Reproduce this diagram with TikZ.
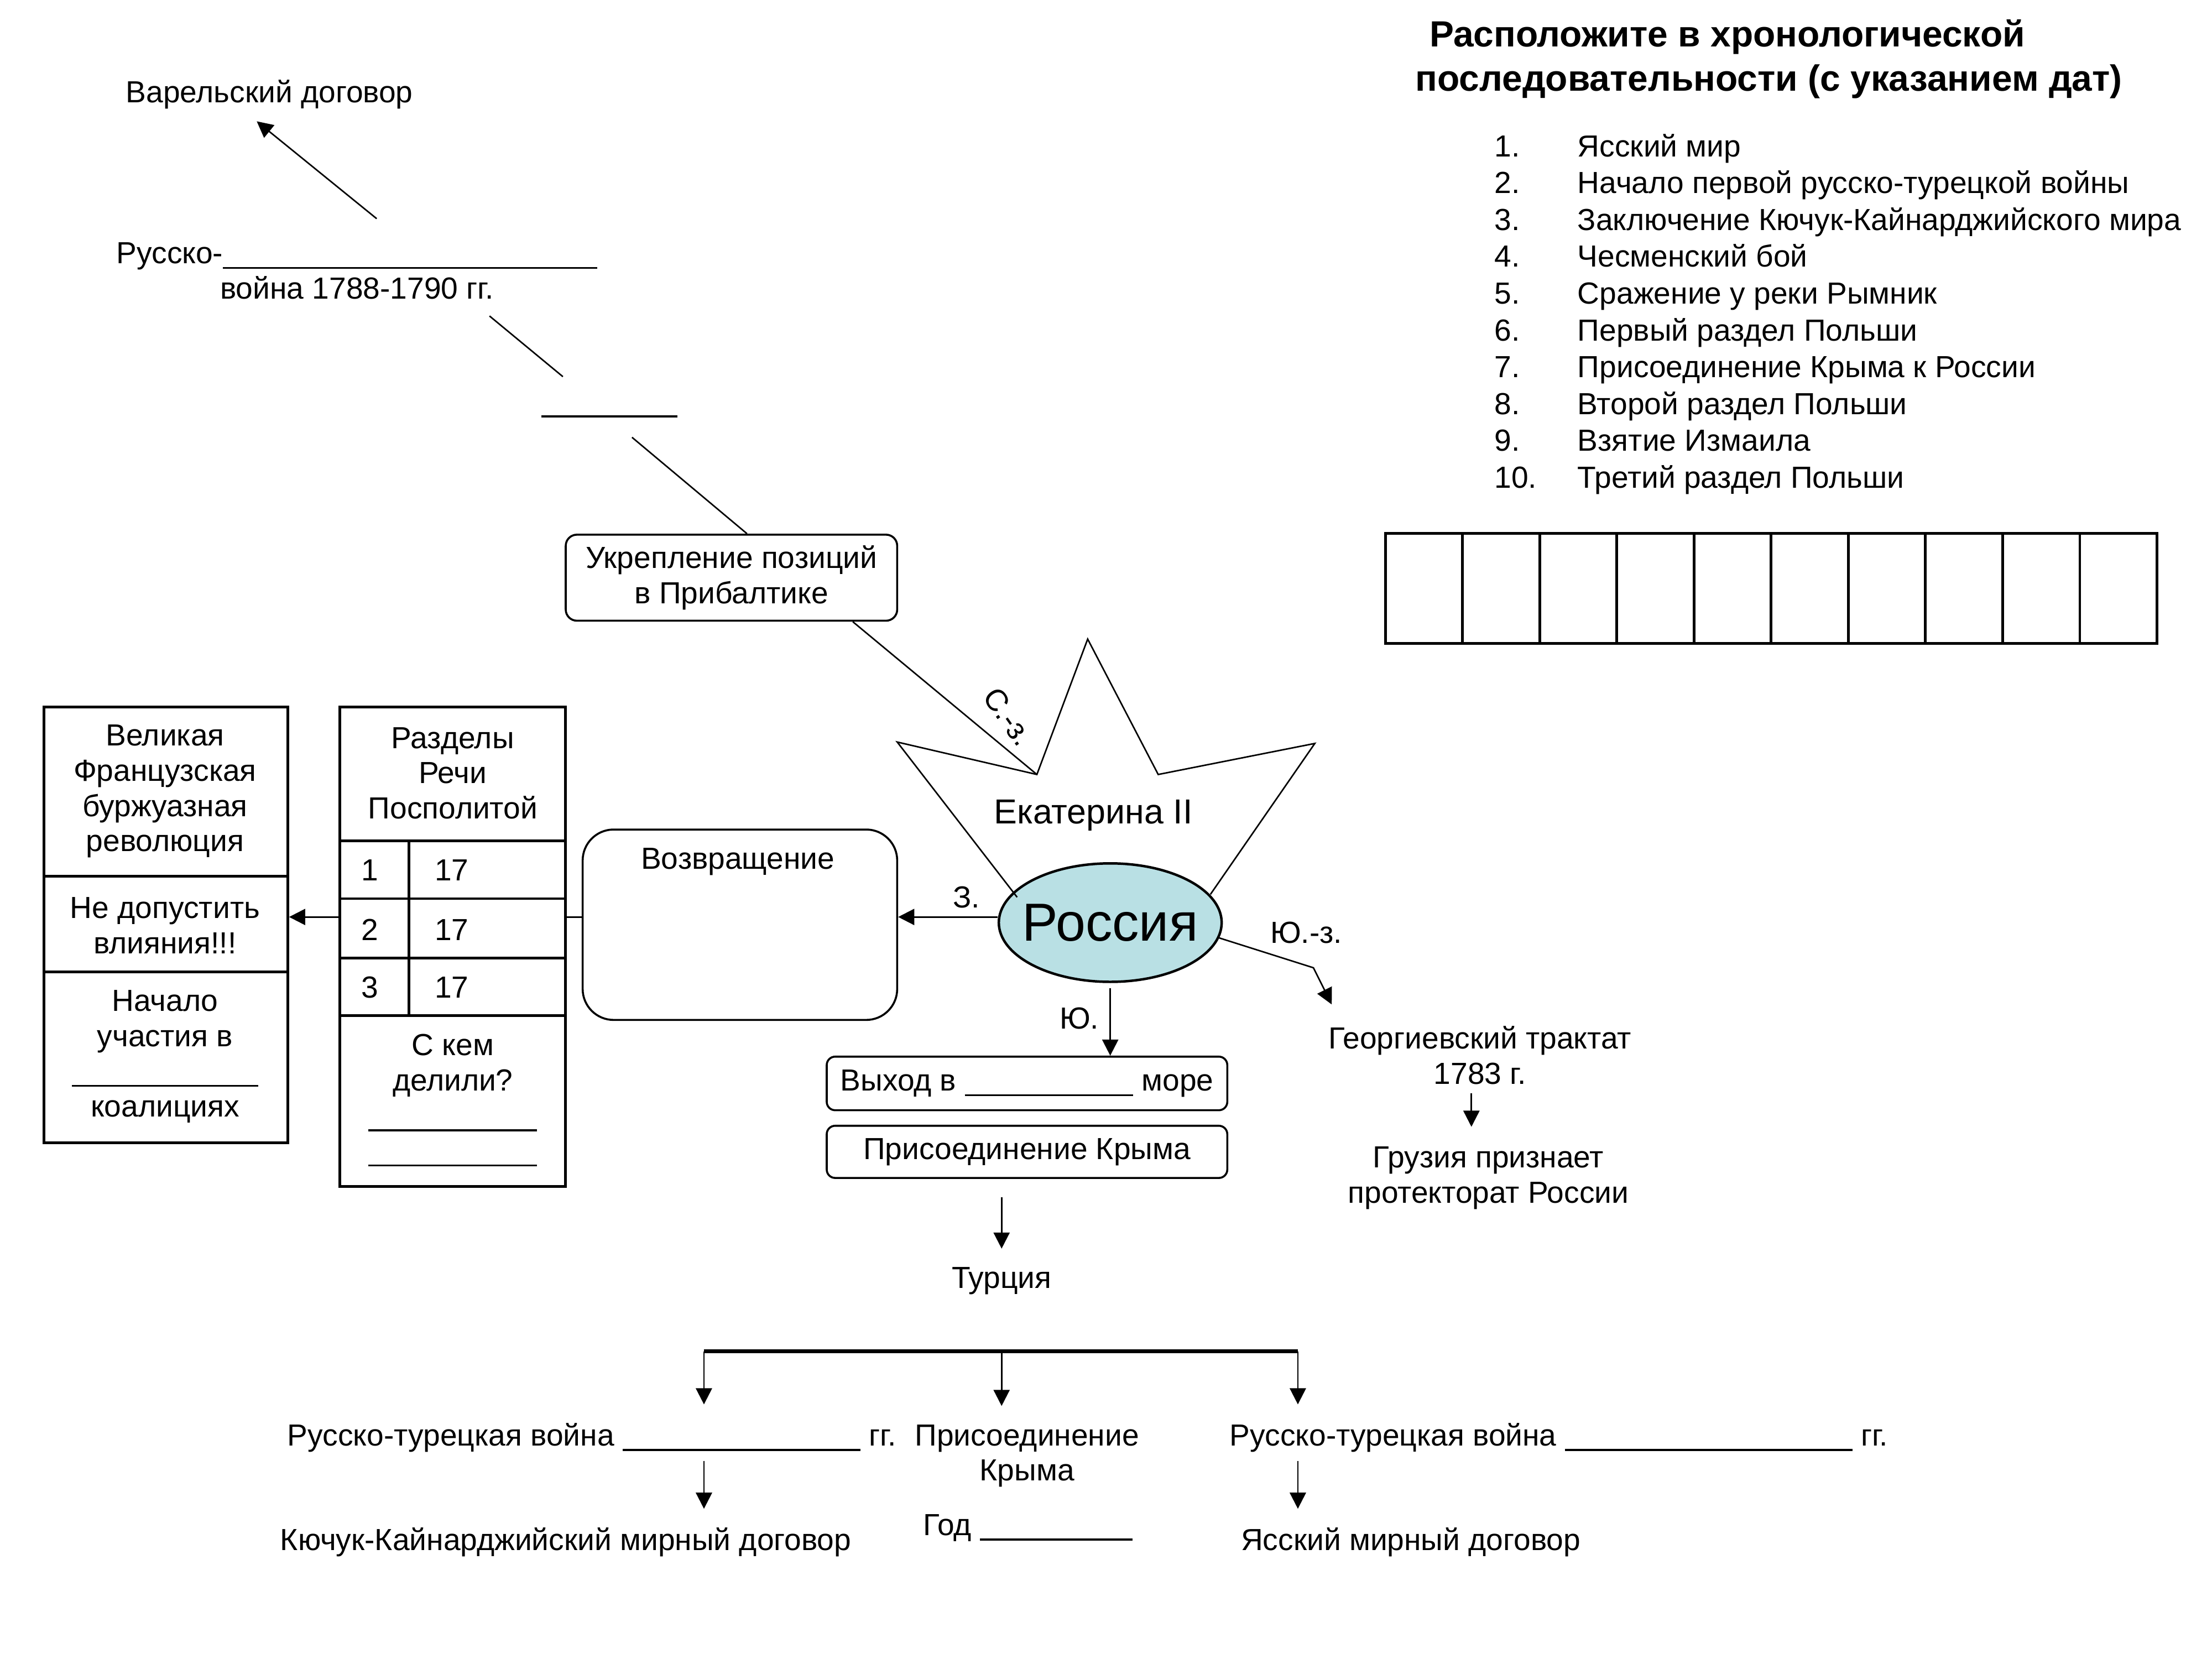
\documentclass[tikz,border=0pt]{standalone}
\usepackage{fontspec}
\setmainfont{Liberation Sans}
\usetikzlibrary{arrows.meta,shapes.geometric,calc}
\tikzset{>={Triangle[length=6.5pt,width=6.5pt]}}
\tikzset{
  ln/.style={line width=0.6pt},
  tbl/.style={draw,line width=1.1pt,inner sep=0pt},
  tblline/.style={line width=1.1pt},
  rbox/.style={draw,line width=0.8pt,inner sep=0pt,align=center},
  bar/.style={line width=1.6pt},
  lst/.style={anchor=base west,inner sep=0pt},
  ttl/.style={anchor=west,inner sep=0pt,font=\fontsize{14.7}{17}\selectfont\bfseries}
}
\definecolor{rusfill}{RGB}{185,224,228}
\newcommand{\fillin}[1]{\rule[-0.17em]{#1}{0.06em}}

\begin{document}
\begin{tikzpicture}[x=0.02cm,y=-0.02cm,font=\fontsize{12.3}{14.2}\selectfont]
    \useasboundingbox (0,0) rectangle (1568,1176);

    % north-west branch
    \node (varel) at (191,67) {Варельский договор};
    \node[align=center] (war88) at (253,192) {Русско-\fillin{151pt}\\война 1788-1790 гг.};
    \node (gapline) at (432,294) {\fillin{55pt}};
    \node[rbox,rounded corners=4.5pt,minimum width=4.7cm,minimum height=1.22cm] (balt) at (518.5,409.5) {Укрепление позиций\\в Прибалтике};
    \coordinate (v1) at (267,155);
    \coordinate (v2) at (182,86);
    \coordinate (w1) at (347,224);
    \coordinate (w2) at (399,267);
    \coordinate (u1) at (448,310);
    \draw[ln,->] (v1) -- (v2);
    \draw[ln] (w1) -- (w2);
    \draw[ln] (u1) -- ($(balt.north)+(11,0)$);

    % Ekaterina and Russia
    \coordinate (starA) at (735,549);
    \node[ellipse,draw,line width=1pt,fill=rusfill,minimum width=3.16cm,minimum height=1.68cm,inner sep=0pt,font=\fontsize{21.6}{24}\selectfont] (russia) at (787,654) {\makebox[30pt]{Россия}};
    \draw[ln] (721,636) -- (636,526) -- (starA) -- (771,453) -- (821,549) -- (932,527) -- (858,634);
    \node[font=\fontsize{14}{16}\selectfont] (ekat) at (775,578) {Екатерина II};
    \draw[ln] ($(balt.south)+(86,0)$) -- (starA);
    \node[rotate=-55] (nwlab) at (715,508) {С.-з.};

    % west
    \coordinate (wrow) at (0,650);
    \node[rbox,rounded corners=12.5pt,minimum width=4.46cm,minimum height=2.7cm] (ret) at (524.5,655.5) {};
    \node (rettxt) at (523,611) {Возвращение};
    \draw[ln,->] (russia.west |- wrow) -- (ret.east |- wrow);
    \node (wlab) at (685,636) {З.};

    \node[tbl,minimum width=3.2cm,minimum height=6.8cm] (parts) at (321,671) {};
    \draw[tblline] (241,596) -- (401,596);
    \draw[tblline] (241,637) -- (401,637);
    \draw[tblline] (241,679) -- (401,679);
    \draw[tblline] (241,720) -- (401,720);
    \draw[tblline] (290,596) -- (290,720);
    \node[align=center] (partshead) at (321,548) {Разделы\\Речи\\Посполитой};
    \foreach \r/\y in {1/617,2/659,3/700} {
        \node (pn\r) at (262,\y) {\r};
        \node[anchor=west] (py\r) at (302,\y) {17};
      }
    \node[align=center] (whom) at (321,780) {С кем\\делили?\\\fillin{68pt}\\\fillin{68pt}};

    \node[tbl,minimum width=3.46cm,minimum height=6.18cm] (france) at (117.5,655.5) {};
    \draw[tblline] (31,621) -- (204,621);
    \draw[tblline] (31,689) -- (204,689);
    \node[align=center] (fr1) at (117,561) {Великая\\Французская\\буржуазная\\революция};
    \node[align=center] (fr2) at (117,656) {Не допустить\\влияния!!!};
    \node[align=center] (fr3) at (117,749) {Начало\\участия в\\\fillin{75pt}\\коалициях};

    \draw[ln] (ret.west |- wrow) -- (parts.east |- wrow);
    \draw[ln,->] (parts.west |- wrow) -- (france.east |- wrow);

    % south
    \node[rbox,rounded corners=3.4pt,minimum width=5.68cm,minimum height=0.76cm] (sea) at (728,768) {Выход в \fillin{68pt} море};
    \node[rbox,rounded corners=3.4pt,minimum width=5.68cm,minimum height=0.74cm] (crimea) at (728,816.5) {Присоединение Крыма};
    \draw[ln,->] ([yshift=-2pt]russia.south) -- (sea.north -| russia.south);
    \node (slab) at (765,722) {Ю.};
    \node (turkey) at (710,908) {Турция};
    \draw[ln,->,shorten <=7.4pt,shorten >=4pt] (crimea.south -| turkey.north) -- (turkey.north);

    \coordinate (forkL) at (499,958);
    \coordinate (forkM) at (710,958);
    \coordinate (forkR) at (920,958);
    \draw[bar] (forkL) -- (forkR);

    \node (war1) at (419.5,1019) {Русско-турецкая война \fillin{96pt} гг.};
    \node[align=center] (join) at (728,1032) {Присоединение\\Крыма};
    \node (war2) at (1105,1019) {Русско-турецкая война \fillin{116pt} гг.};
    \node (year) at (728.5,1083) {Год \fillin{61.5pt}};
    \node (kuchuk) at (401,1093) {Кючук-Кайнарджийский мирный договор};
    \node (yassy) at (1000,1093) {Ясский мирный договор};

    \draw[ln,->,shorten >=4pt] (forkL) -- (forkL |- war1.north);
    \draw[ln,->,shorten >=4pt] (forkM) -- (forkM |- join.north);
    \draw[ln,->,shorten >=4pt] (forkR) -- (forkR |- war2.north);
    \draw[ln,->,shorten >=4pt] (forkL |- war1.south) -- (forkL |- kuchuk.north);
    \draw[ln,->,shorten >=4pt] (forkR |- war2.south) -- (forkR |- yassy.north);

    % south-west
    \coordinate (swBend) at (931,686);
    \coordinate (swTip) at (944,712);
    \draw[ln,->] (russia.-8) -- (swBend) -- (swTip);
    \node (swlab) at (926,661) {Ю.-з.};
    \node[align=center] (georg) at (1049,748) {Георгиевский трактат\\1783 г.};
    \node[align=center] (georgia) at (1055,835) {Грузия признает\\протекторат России};
    \draw[ln,->,shorten >=4.5pt] ([xshift=-3.4pt]georg.south) -- ([xshift=-3.4pt]georg.south |- georgia.north);

    % task
    \node[ttl] (title1) at (1013,26) {Расположите в хронологической};
    \node[ttl] (title2) at (1003,58) {последовательности (с указанием дат)};
    \foreach \t [count=\i] in {Ясский мир,Начало первой русско-турецкой войны,Заключение Кючук-Кайнарджийского мира,Чесменский бой,Сражение у реки Рымник,Первый раздел Польши,Присоединение Крыма к России,Второй раздел Польши,Взятие Измаила,Третий раздел Польши} {
        \node[lst] (num\i) at (1059,{111+26.1*(\i-1)}) {\i.};
        \node[lst] (item\i) at (1118,{111+26.1*(\i-1)}) {\t};
      }
    \foreach \i in {0,...,9} {
        \draw[tblline] ({982+54.7*\i},378) rectangle ++(54.7,78);
      }
  \end{tikzpicture}
\end{document}
